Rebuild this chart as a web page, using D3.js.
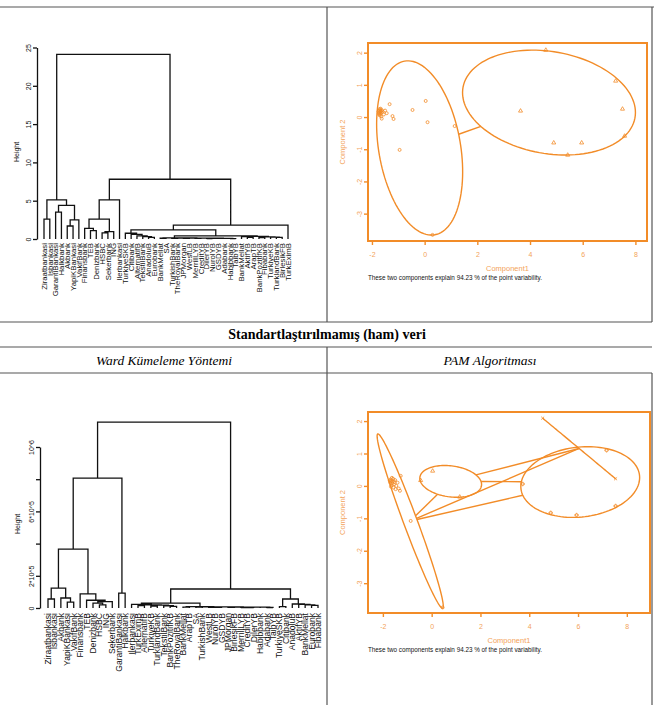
<!DOCTYPE html>
<html>
<head>
<meta charset="utf-8">
<script src="https://cdn.jsdelivr.net/npm/d3@7"></script>
<style>
  body { margin: 0; background: #fff; }
  svg { display: block; font-family: "Liberation Sans", Arial, sans-serif; }
</style>
</head>
<body>
<svg id="chart" width="654" height="705"></svg>
<script>
// ---- data ----
// dendrogram nodes: [height, left, right], leaves are bank names
const topTree =
[24.1,
  [5.1,
    [2.6, "Ziraatbankasi", "Isbankasi"],
    [4.4,
      [3.5, "GarantiBankasi", "Halkbank"],
      [2.5, [1.7, "Akbank", "YapiKBankasi"], "VakifBank"]]],
  [7.8,
    [5.1,
      [2.6,
        [1.4, "Finansbank", [1.1, "TEB", "Denizbank"]],
        [0.95, [0.8, "HSBC", "Sekerbank"], "ING"]],
      "Ilerbankasi"],
    [1.8,
      [1.2,
        [0.75, "TurkiyeSKB",
          [0.6, "Citibank",
            [0.4, "AlternatifB", [0.3, "TekstilBank", [0.2, "AnadoluB", "Eurobank"]]]]],
        [0.42,
          [0.15,
            [0.1, "BankMellat", "SA"],
            [0.13,
              [0.09, "TurkishBank", "TheRoyalBank"],
              [0.12,
                [0.08, "JPMorgan", "WestLB"],
                [0.11,
                  [0.07, "MerrillLYB", "CreditYB"],
                  [0.1,
                    [0.06, "DilerYB", "NurolYB"],
                    [0.09, "GSDYB", [0.07, "Adabank", [0.05, "Habibbank", "TaibYB"]]]]]]]],
          [0.35,
            [0.3, "BankMellat", [0.22, "AktifYB", "ArapTB"]],
            [0.28, [0.18, "BankPozitifKB", "Fibabank"],
              [0.24, "TurkiyeKB", [0.2, "TurklandBank", "BirlesikFB"]]]]]],
      "TurkEximB"]]];

const bottomTree =
[1155000,
  [807000,
    [366000,
      [124000, [56000, "Ziraatbankasi", "Isbankasi"],
        [62000, "Akbank", [37000, "YapiKBankasi", "VakifBank"]]],
      [88000, "Finansbank",
        [48000, "TEB", [40000, [30000, "Denizbank", [20000, "HSBC", "ING"]], "Sekerbank"]]]],
    [93000, "GarantiBankasi", "Halkbank"]],
  [118000,
    [30000,
      [22000, "Ilerbankasi",
        [20000, [15000, "TurkEximB", "AlternatifB"],
          [18000, [12000, "TurkiyeKB", "TurklandBank"],
            [14000, "TekstilBank", [10000, "BankPozitifKB", "TheRoyalBank"]]]]],
      [8000, [6000, "BankMellat", "ArapTB"],
        [7000, [5000, "SA", "TurkishBank"],
          [6500, [4000, "WestLB", [3500, "NurolYB", "GSDYB"]],
            [6000, [4500, "JPMorgan", "BirlesikFB"],
              [5500, [3000, "MerrillLYB", [2500, "CreditYB", "DilerYB"]],
                [5000, "Habibbank", [3000, "Adabank", "TaibYB"]]]]]]]],
    [56000, [8000, "TurkiyeSKB", "Citibank"],
      [25000, "AnadoluB", [22000, "AktifYB", [20000, "BankMellat", [16000, "Eurobank", "Fibabank"]]]]]]];

const topHeightTicks = [0, 5, 10, 15, 20, 25];
const topHeightLabels = ["0", "5", "10", "15", "20", "25"];
const bottomHeightTicks = [0, 200000, 400000, 600000, 800000, 1000000];
const bottomHeightLabels = ["0", "2*10^5", "", "6*10^5", "", "10^6"];

const compTicksX = [-2, 0, 2, 4, 6, 8];
const compTicksY = [-3, -2, -1, 0, 1, 2];

// cluster ellipses: centre, semi-axes, angle (deg) in component space
const topEllipses = [
  { cx: -0.19, cy: -0.96, a: 2.76, b: 1.54, angle: -76.3 },
  { cx: 4.72, cy: 0.45, a: 3.30, b: 1.59, angle: -7 }
];
const topLinks = [[0, 1]];
const topPoints = [
  [[-1.72, 0.20], [-1.70, 0.15], [-1.68, 0.22], [-1.74, 0.12], [-1.66, 0.18], [-1.71, 0.25],
   [-1.69, 0.10], [-1.75, 0.17], [-1.64, 0.14], [-1.67, 0.26], [-1.73, 0.08], [-1.62, 0.21],
   [-1.70, 0.05], [-1.60, 0.17], [-1.65, 0.02], [-1.55, 0.08], [-1.50, 0.20], [-1.44, 0.12],
   [-1.33, 0.40], [-1.22, 0.03], [-1.18, -0.06], [-1.63, -0.05], [-0.46, 0.22], [0.04, 0.50],
   [0.11, -0.16], [1.14, -0.28], [-0.95, -1.02], [0.30, -3.66]],
  [[3.64, 0.19], [4.60, 2.08], [7.25, 1.12], [7.51, 0.25], [7.59, -0.59], [4.90, -0.80],
   [5.96, -0.80], [5.43, -1.18]]
];

const bottomEllipses = [
  { cx: -0.88, cy: -1.085, a: 3.0, b: 0.27, angle: -63.6 },
  { cx: 0.78, cy: 0.14, a: 1.27, b: 0.48, angle: -5 },
  { cx: 6.09, cy: 0.12, a: 2.44, b: 1.08, angle: 4 },
  { cx: 6.045, cy: 1.155, a: 1.763, b: 0, angle: -32 }
];
const bottomLinks = [[0, 1], [0, 2], [0, 3], [1, 2], [1, 3]];
const bottomPoints = [
  [[-1.70, 0.10], [-1.66, 0.15], [-1.62, 0.08], [-1.68, 0.20], [-1.60, 0.14], [-1.64, 0.02],
   [-1.58, 0.22], [-1.72, 0.16], [-1.55, 0.05], [-1.63, 0.25], [-1.52, 0.12], [-1.67, -0.02],
   [-1.50, 0.18], [-1.57, -0.05], [-1.45, 0.00], [-1.40, 0.10], [-1.48, -0.10], [-1.35, -0.08],
   [-1.27, 0.31], [-1.30, -0.15], [-0.86, -1.08], [0.45, -3.75]],
  [[0.04, 0.46], [1.15, -0.34], [-0.45, 0.17]],
  [[3.73, 0.06], [4.88, -0.83], [5.94, -0.90], [7.17, 1.10], [7.54, -0.62]],
  [[4.55, 2.09], [7.54, 0.22]]
];

const subtitle = "These two components explain 94.23 % of the point variability.";

// ---- drawing ----
const svg = d3.select("#chart");
svg.append("rect").attr("width", 654).attr("height", 705).attr("fill", "#fff");
const ORANGE = "#f28c28";
const ORANGE_TXT = "#f3a35a";

// table frame
const frame = svg.append("g").attr("stroke", "#555").attr("stroke-width", 1.2);
[[0, 7, 654, 7], [0, 322, 652, 322], [0, 347, 652, 347], [0, 373, 652, 373],
 [327, 7, 327, 322], [327, 347, 327, 705], [652, 7, 652, 322], [652, 373, 652, 705]]
  .forEach(l => frame.append("line").attr("x1", l[0]).attr("y1", l[1]).attr("x2", l[2]).attr("y2", l[3]));

svg.append("text").attr("x", 327).attr("y", 339).attr("text-anchor", "middle")
  .attr("font-family", "Liberation Serif, Times New Roman, serif").attr("font-weight", "bold")
  .attr("font-size", 14).text("Standartlaştırılmamış (ham) veri");
svg.append("text").attr("x", 164).attr("y", 365).attr("text-anchor", "middle")
  .attr("font-family", "Liberation Serif, Times New Roman, serif").attr("font-style", "italic")
  .attr("font-size", 13.5).text("Ward Kümeleme Yöntemi");
svg.append("text").attr("x", 490).attr("y", 365).attr("text-anchor", "middle")
  .attr("font-family", "Liberation Serif, Times New Roman, serif").attr("font-style", "italic")
  .attr("font-size", 13.5).text("PAM Algoritması");

function countLeaves(node) {
  return typeof node === "string" ? 1 : countLeaves(node[1]) + countLeaves(node[2]);
}

function dendrogram(tree, opt) {
  const n = countLeaves(tree);
  const x = d3.scalePoint().domain(d3.range(n)).range(opt.xRange);
  const y = d3.scaleLinear().domain(opt.yDomain).range(opt.yRange);
  const g = svg.append("g");
  let k = 0;
  const segs = [], leaves = [];

  function walk(node) {
    if (typeof node === "string") {
      const px = x(k++);
      leaves.push({ name: node, px });
      return { px, h: 0 };
    }
    const l = walk(node[1]), r = walk(node[2]);
    segs.push(`M${l.px},${y(l.h)}V${y(node[0])}H${r.px}V${y(r.h)}`);
    return { px: (l.px + r.px) / 2, h: node[0] };
  }
  walk(tree);

  g.append("path").attr("d", segs.join(""))
    .attr("fill", "none").attr("stroke", "#111").attr("stroke-width", 1.3);

  g.selectAll("text.leaf").data(leaves).join("text")
    .attr("class", "leaf")
    .attr("transform", d => `translate(${d.px},${opt.labelY}) rotate(-90)`)
    .attr("text-anchor", "end").attr("dy", "0.35em")
    .attr("font-size", opt.fontSize).attr("fill", "#111")
    .text(d => d.name);

  const axis = d3.axisLeft(y).tickValues(opt.ticks)
    .tickFormat((d, i) => opt.tickLabels[i]).tickSize(4).tickSizeOuter(0);
  const ax = g.append("g").attr("transform", `translate(${opt.axisX},0)`).call(axis);
  ax.select(".domain").attr("stroke", "#111").attr("stroke-width", 1.3);
  ax.selectAll(".tick line").attr("stroke", "#111").attr("stroke-width", 1.3);
  ax.selectAll(".tick text")
    .attr("x", null).attr("dy", null).attr("fill", "#111")
    .attr("transform", "translate(-6,0) rotate(-90)")
    .attr("text-anchor", "middle").attr("font-size", 7);

  g.append("text").attr("transform", `translate(${opt.titleX},${opt.titleY}) rotate(-90)`)
    .attr("text-anchor", "middle").attr("dy", "0.35em").attr("font-size", 7)
    .attr("fill", "#111").text("Height");
}

dendrogram(topTree, {
  xRange: [44, 288], yDomain: [0, 25], yRange: [239, 47.5],
  ticks: topHeightTicks, tickLabels: topHeightLabels,
  axisX: 37, labelY: 243, fontSize: 7.8, titleX: 17, titleY: 152
});
dendrogram(bottomTree, {
  xRange: [48, 318], yDomain: [0, 1000000], yRange: [608, 447],
  ticks: bottomHeightTicks, tickLabels: bottomHeightLabels,
  axisX: 40, labelY: 613, fontSize: 8.6, titleX: 18, titleY: 524
});

function ellipsePoints(e) {
  const th = e.angle * Math.PI / 180;
  return d3.range(0, 121).map(i => {
    const t = i / 120 * 2 * Math.PI;
    const dx = e.a * Math.cos(t), dy = e.b * Math.sin(t);
    return [e.cx + dx * Math.cos(th) - dy * Math.sin(th), e.cy + dx * Math.sin(th) + dy * Math.cos(th)];
  });
}

// parameter along direction (dx,dy) where the line leaves the ellipse
function exitT(e, dx, dy) {
  const th = e.angle * Math.PI / 180;
  const du = dx * Math.cos(th) + dy * Math.sin(th);
  const dv = -dx * Math.sin(th) + dy * Math.cos(th);
  const q = du * du / (e.a * e.a) + (e.b > 0 ? dv * dv / (e.b * e.b) : Infinity);
  return 1 / Math.sqrt(q);
}

function clusplot(opt) {
  const x = d3.scaleLinear().domain(opt.xDomain).range([opt.left, opt.right]);
  const y = d3.scaleLinear().domain(opt.yDomain).range([opt.bottom, opt.top]);
  const g = svg.append("g");
  const line = d3.line().x(d => x(d[0])).y(d => y(d[1]));

  opt.ellipses.forEach(e => {
    g.append("path").attr("d", line(ellipsePoints(e)))
      .attr("fill", "none").attr("stroke", ORANGE).attr("stroke-width", 1.4);
  });

  opt.links.forEach(([i, j]) => {
    const e1 = opt.ellipses[i], e2 = opt.ellipses[j];
    const dx = e2.cx - e1.cx, dy = e2.cy - e1.cy;
    const t1 = exitT(e1, dx, dy), t2 = exitT(e2, -dx, -dy);
    if (t1 + t2 >= 1) return;
    g.append("line")
      .attr("x1", x(e1.cx + t1 * dx)).attr("y1", y(e1.cy + t1 * dy))
      .attr("x2", x(e2.cx - t2 * dx)).attr("y2", y(e2.cy - t2 * dy))
      .attr("stroke", ORANGE).attr("stroke-width", 1.4);
  });

  const shapes = [d3.symbolCircle, d3.symbolTriangle, d3.symbolCross, d3.symbolTimes];
  opt.points.forEach((pts, ci) => {
    g.selectAll(null).data(pts).join("path")
      .attr("transform", d => `translate(${x(d[0])},${y(d[1])})`)
      .attr("d", d3.symbol().type(shapes[ci]).size(7))
      .attr("fill", "none").attr("stroke", ORANGE).attr("stroke-width", 0.8);
  });

  g.append("rect").attr("x", opt.left).attr("y", opt.top)
    .attr("width", opt.right - opt.left).attr("height", opt.bottom - opt.top)
    .attr("fill", "none").attr("stroke", ORANGE).attr("stroke-width", 2);

  const fmt = d => String(d);
  const ax = g.append("g").attr("transform", `translate(0,${opt.bottom})`)
    .call(d3.axisBottom(x).tickValues(compTicksX).tickFormat(fmt).tickSize(4).tickSizeOuter(0));
  const ay = g.append("g").attr("transform", `translate(${opt.left},0)`)
    .call(d3.axisLeft(y).tickValues(compTicksY).tickFormat(fmt).tickSize(4).tickSizeOuter(0));
  [ax, ay].forEach(a => {
    a.select(".domain").remove();
    a.selectAll(".tick line").attr("stroke", ORANGE).attr("stroke-width", 1.4);
    a.selectAll(".tick text").attr("fill", ORANGE_TXT).attr("font-size", 7);
  });
  ax.selectAll(".tick text").attr("y", 11);
  ay.selectAll(".tick text").attr("x", null).attr("dy", null)
    .attr("transform", "translate(-6,0) rotate(-90)").attr("text-anchor", "middle");

  g.append("text").attr("x", (opt.left + opt.right) / 2).attr("y", opt.bottom + 30)
    .attr("text-anchor", "middle").attr("font-size", 7.5).attr("fill", ORANGE_TXT).text("Component1");
  g.append("text")
    .attr("transform", `translate(${opt.left - 23},${(opt.top + opt.bottom) / 2}) rotate(-90)`)
    .attr("text-anchor", "middle").attr("font-size", 7.5).attr("fill", ORANGE_TXT).text("Component 2");
  g.append("text").attr("x", opt.left).attr("y", opt.bottom + 38.5)
    .attr("font-size", 6.5).attr("fill", "#111")
    .attr("textLength", 174).attr("lengthAdjust", "spacingAndGlyphs").text(subtitle);
}

clusplot({
  left: 368, right: 647, top: 43, bottom: 241,
  xDomain: [-2.15, 8.44], yDomain: [-3.85, 2.3],
  ellipses: topEllipses, links: topLinks, points: topPoints
});
clusplot({
  left: 368, right: 650, top: 412, bottom: 613,
  xDomain: [-2.61, 8.95], yDomain: [-3.92, 2.28],
  ellipses: bottomEllipses, links: bottomLinks, points: bottomPoints
});
</script>
</body>
</html>
